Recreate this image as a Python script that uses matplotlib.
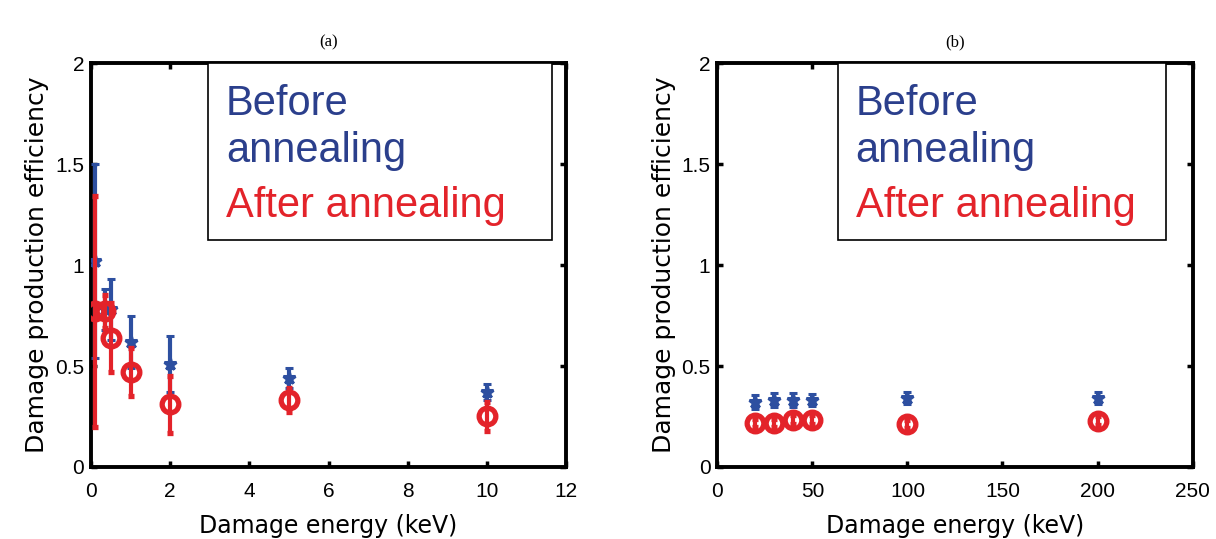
import numpy as np
import matplotlib.pyplot as plt
from matplotlib.patches import Rectangle
from matplotlib.ticker import FuncFormatter

plt.rcParams['font.family'] = ['Liberation Sans', 'DejaVu Sans']

# panel (a): low energies
x_a = [0.1, 0.35, 0.5, 1, 2, 5, 10]
before_a = [1.02, 0.78, 0.78, 0.62, 0.51, 0.44, 0.37]
before_a_err = [0.48, 0.10, 0.15, 0.13, 0.14, 0.05, 0.04]
after_a = [0.77, 0.77, 0.64, 0.47, 0.31, 0.33, 0.25]
after_a_err = [0.57, 0.08, 0.17, 0.12, 0.14, 0.06, 0.07]

# panel (b): high energies
x_b = [20, 30, 40, 50, 100, 200]
before_b = [0.32, 0.33, 0.33, 0.33, 0.34, 0.34]
before_b_err = [0.035, 0.035, 0.035, 0.03, 0.03, 0.03]
after_b = [0.22, 0.22, 0.235, 0.235, 0.215, 0.23]
after_b_err = [0.02, 0.02, 0.02, 0.02, 0.02, 0.02]

blue = '#2d4fa0'
red = '#e3232a'
blue_txt = '#2b3f8c'

fig = plt.figure(figsize=(12.16, 5.39), dpi=100)
ax1 = fig.add_axes([0.0748, 0.1336, 0.3907, 0.7494])
ax2 = fig.add_axes([0.590, 0.1336, 0.3907, 0.7494])

fmt = FuncFormatter(lambda v, p: ('%g' % v))

def draw(ax, x, b, be, a, ae, xmax, xstep, box, title):
    ax.errorbar(x, b, yerr=be, fmt='*', color=blue, ms=9, mew=2.2,
                elinewidth=3, capsize=3, capthick=2.5, zorder=3)
    ax.errorbar(x, a, yerr=ae, fmt='o', color=red, ms=12, mew=3.8,
                mfc='none', elinewidth=3, capsize=2, capthick=2.5, zorder=4)
    ax.set_xlim(0, xmax)
    ax.set_ylim(0, 2)
    ax.set_xticks(np.arange(0, xmax + 0.1, xstep))
    ax.set_yticks([0, 0.5, 1, 1.5, 2])
    ax.xaxis.set_major_formatter(fmt)
    ax.yaxis.set_major_formatter(fmt)
    for s in ax.spines.values():
        s.set_linewidth(2.8)
    ax.tick_params(direction='in', length=4, width=2.5, labelsize=15,
                   top=True, right=True)
    ax.tick_params(axis='x', pad=11)
    ax.tick_params(axis='y', pad=5)
    ax.set_xlabel('Damage energy (keV)', family=['DejaVu Sans'],
                  fontsize=17, labelpad=9)
    ax.set_ylabel('Damage production efficiency', family=['DejaVu Sans'],
                  fontsize=18, labelpad=4)
    ax.set_title(title, family=['Liberation Serif'], fontsize=12, pad=12)
    x0, x1 = box
    ax.add_patch(Rectangle((x0, 0.562), x1 - x0, 0.438, transform=ax.transAxes,
                           fill=True, facecolor='white', edgecolor='black',
                           lw=1.2, zorder=5))
    tx = x0 + 0.038
    ax.text(tx, 0.871, 'Before', transform=ax.transAxes, fontsize=30,
            color=blue_txt, va='baseline', zorder=6)
    ax.text(tx, 0.755, 'annealing', transform=ax.transAxes, fontsize=30,
            color=blue_txt, va='baseline', zorder=6)
    ax.text(tx, 0.619, 'After annealing', transform=ax.transAxes, fontsize=30,
            color=red, va='baseline', zorder=6)

draw(ax1, x_a, before_a, before_a_err, after_a, after_a_err, 12, 2,
     (0.246, 0.971), '(a)')
draw(ax2, x_b, before_b, before_b_err, after_b, after_b_err, 250, 50,
     (0.253, 0.944), '(b)')

fig.savefig('out.png', dpi=100)
